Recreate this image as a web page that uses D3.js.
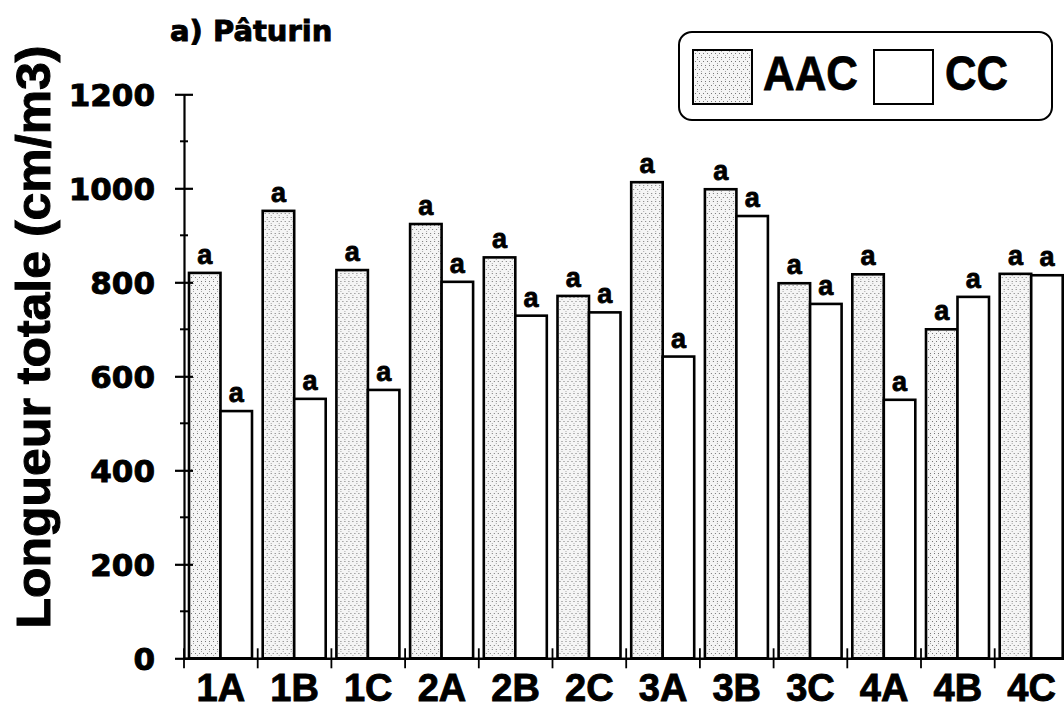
<!DOCTYPE html>
<html>
<head>
<meta charset="utf-8">
<script src="https://cdn.jsdelivr.net/npm/d3@7"></script>
<style>
  html, body { margin: 0; padding: 0; background: #fff; }
  svg { display: block; }
</style>
</head>
<body>
<svg id="chart" width="1064" height="710"></svg>
<script>
// Sites (categories) and root length per treatment
const categories = ["1A", "1B", "1C", "2A", "2B", "2C", "3A", "3B", "3C", "4A", "4B", "4C"];
const series = ["AAC", "CC"];
const aacValues = [820, 952, 826, 924, 853, 771, 1013, 998, 798, 817, 700, 818];
const ccValues  = [526, 552, 571, 801, 729, 736, 642, 941, 754, 550, 769, 815];
const aacLetters = ["a", "a", "a", "a", "a", "a", "a", "a", "a", "a", "a", "a"];
const ccLetters  = ["a", "a", "a", "a", "a", "a", "a", "a", "a", "a", "a", "a"];
const yTicks = [0, 200, 400, 600, 800, 1000, 1200];
const yMinorTicks = [100, 300, 500, 700, 900, 1100];

const svg = d3.select("#chart");
const plotLeft = 184, plotBottom = 658.3, plotTop = 94.3;
const bandW = 73.7;
const heavy = "'Liberation Sans', Arial, sans-serif";

const x0 = d3.scaleBand().domain(categories).range([plotLeft, plotLeft + bandW * categories.length]).padding(0);
const x1 = d3.scaleBand().domain(series).range([5, 68]).padding(0);
const y = d3.scaleLinear().domain([0, 1200]).range([plotBottom, plotTop]);

// stipple fill for the AAC bars
const defs = svg.append("defs");
const pat = defs.append("pattern")
  .attr("id", "stipple").attr("patternUnits", "userSpaceOnUse")
  .attr("width", 8).attr("height", 8);
pat.append("rect").attr("width", 8).attr("height", 8).attr("fill", "#f5f5f5");
[[1, 1], [5, 1], [3, 5], [7, 5], [1, 3], [5, 7]].forEach(([px, py], i) => {
  pat.append("rect").attr("x", px).attr("y", py).attr("width", 1).attr("height", 1)
    .attr("fill", i < 4 ? "#777" : "#aaa");
});

// bars
const rows = categories.map((c, i) => ({ cat: c, values: [
  { key: "AAC", value: aacValues[i], letter: aacLetters[i] },
  { key: "CC", value: ccValues[i], letter: ccLetters[i] }
]}));

const groups = svg.append("g").selectAll("g").data(rows).join("g")
  .attr("transform", d => `translate(${x0(d.cat)},0)`);

groups.selectAll("rect").data(d => d.values).join("rect")
  .attr("x", d => x1(d.key))
  .attr("y", d => y(d.value))
  .attr("width", x1.bandwidth())
  .attr("height", d => y(0) - y(d.value))
  .attr("fill", d => d.key === "AAC" ? "url(#stipple)" : "#fff")
  .attr("stroke", "#000")
  .attr("stroke-width", 2.6);

groups.selectAll("text").data(d => d.values).join("text")
  .attr("x", d => x1(d.key) + x1.bandwidth() / 2)
  .attr("y", d => y(d.value) - 9)
  .attr("text-anchor", "middle")
  .attr("font-family", heavy)
  .attr("font-weight", "bold")
  .attr("font-size", 27)
  .attr("stroke", "#000").attr("stroke-width", 0.8)
  .text(d => d.letter);

// y axis
const yAxis = d3.axisLeft(y).tickValues(yTicks).tickSize(0).tickPadding(29)
  .tickFormat(d3.format("d"));
const gy = svg.append("g").attr("transform", `translate(${plotLeft},0)`).call(yAxis);
gy.select(".domain").attr("stroke", "#000").attr("stroke-width", 2.2);
gy.selectAll(".tick text")
  .attr("font-family", "'DejaVu Sans', sans-serif")
  .attr("font-weight", "bold")
  .attr("font-size", 31)
  .attr("fill", "#000")
  .attr("stroke", "#000").attr("stroke-width", 0.9)
  .attr("dy", "0.36em");
gy.selectAll(".tick").append("line")
  .attr("x1", -9).attr("x2", 9).attr("stroke", "#000").attr("stroke-width", 2.2);
gy.append("g").selectAll("line").data(yMinorTicks).join("line")
  .attr("x1", -4).attr("x2", 4).attr("y1", d => y(d)).attr("y2", d => y(d))
  .attr("stroke", "#000").attr("stroke-width", 2);

// x axis
const xAxis = d3.axisBottom(x0).tickSize(0).tickPadding(15);
const gx = svg.append("g").attr("transform", `translate(0,${plotBottom})`).call(xAxis);
gx.select(".domain").attr("stroke", "#000").attr("stroke-width", 2.4);
gx.selectAll(".tick text")
  .attr("font-family", heavy)
  .attr("font-weight", "bold")
  .attr("font-size", 38)
  .attr("fill", "#000")
  .attr("stroke", "#000").attr("stroke-width", 0.9)
  .attr("dy", "0.72em");
gx.append("g").selectAll("line").data(categories).join("line")
  .attr("x1", d => x0(d)).attr("x2", d => x0(d))
  .attr("y1", -10).attr("y2", 10)
  .attr("stroke", "#000").attr("stroke-width", 1.8);

// y axis title
svg.append("text")
  .attr("transform", "translate(50,337) rotate(-90)")
  .attr("text-anchor", "middle")
  .attr("font-family", heavy)
  .attr("font-weight", "bold")
  .attr("font-size", 48)
  .attr("stroke", "#000").attr("stroke-width", 1)
  .attr("textLength", 583)
  .attr("lengthAdjust", "spacingAndGlyphs")
  .text("Longueur totale (cm/m3)");

// panel title
svg.append("text")
  .attr("x", 170).attr("y", 41)
  .attr("font-family", "'DejaVu Sans', sans-serif")
  .attr("font-weight", "bold")
  .attr("font-size", 29)
  .attr("stroke", "#000").attr("stroke-width", 0.9)
  .text("a) Pâturin");

// legend
const lg = svg.append("g");
lg.append("rect").attr("x", 679).attr("y", 32).attr("width", 373).attr("height", 88)
  .attr("rx", 13).attr("fill", "#fff").attr("stroke", "#000").attr("stroke-width", 2);
const legendItems = [
  { key: "AAC", sx: 693, tx: 763, tw: 95 },
  { key: "CC", sx: 874, tx: 945, tw: 63 }
];
legendItems.forEach(it => {
  lg.append("rect").attr("x", it.sx).attr("y", 50).attr("width", 59).attr("height", 54)
    .attr("fill", it.key === "AAC" ? "url(#stipple)" : "#fff")
    .attr("stroke", "#000").attr("stroke-width", 2);
  lg.append("text").attr("x", it.tx).attr("y", 90)
    .attr("font-family", heavy)
    .attr("font-weight", "bold")
    .attr("font-size", 49)
    .attr("stroke", "#000").attr("stroke-width", 0.8)
    .attr("textLength", it.tw)
    .attr("lengthAdjust", "spacingAndGlyphs")
    .text(it.key);
});
</script>
</body>
</html>
